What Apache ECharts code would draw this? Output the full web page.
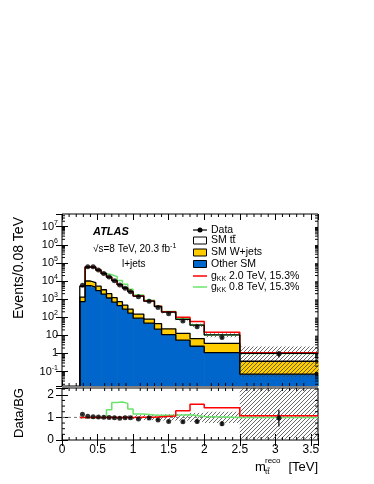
<!DOCTYPE html>
<html>
<head>
<meta charset="utf-8">
<script src="https://cdn.jsdelivr.net/npm/echarts@6/dist/echarts.min.js"></script>
<style>
html, body { margin: 0; padding: 0; background: #fff; }
#chart { width: 374px; height: 484px; }
</style>
</head>
<body>
<div id="chart"></div>
<script>
// bin edges of m_tt reco [TeV]
const binEdges = [0.25, 0.325, 0.4, 0.475, 0.55, 0.625, 0.7, 0.775, 0.85, 0.925, 1.0, 1.15, 1.3, 1.4, 1.6, 1.8, 2.0, 2.5, 3.6];
// events / 0.08 TeV, per background
const otherSM = [730, 5600, 4600, 2950, 1900, 1150, 680, 440, 280, 170, 89, 47, 22, 11, 5.4, 2.5, 1.1, 0.072];
const wJets = [570, 4400, 3600, 2250, 1400, 850, 520, 280, 190, 110, 61, 32, 22, 12, 7.6, 4.1, 2.5, 0.30];
const ttbar = [3900, 49000, 50800, 34800, 22700, 14500, 9300, 5580, 3630, 2320, 1320, 700, 346, 167, 64, 30, 6.9, 0.63];
const dataEvents = [5900, 62000, 60800, 40800, 26300, 16500, 10300, 6050, 4020, 2570, 1370, 760, 347, 156, 62, 30, 7.6, 0.97];
const dataRatioErr = [0.014, 0.004, 0.004, 0.005, 0.006, 0.008, 0.01, 0.013, 0.016, 0.02, 0.022, 0.03, 0.043, 0.04, 0.065, 0.09, 0.1, 0.37];
// signal + background
const gkk20 = [5200, 59000, 59000, 40000, 26000, 16500, 10500, 6300, 4100, 2600, 1485, 788, 402, 201, 100, 58, 15, 1.08];
const gkk08 = [5200, 59000, 59000, 40000, 26000, 22100, 17400, 10600, 6640, 3560, 1690, 858, 429, 209, 86, 38, 10.5, 1.0];
// background uncertainty (relative)
const bkgUncUp = [0.06, 0.05, 0.05, 0.05, 0.05, 0.05, 0.06, 0.06, 0.07, 0.08, 0.1, 0.12, 0.12, 0.14, 0.15, 0.2, 0.25, 1.4];
const bkgUncDown = [0.06, 0.05, 0.05, 0.05, 0.05, 0.05, 0.06, 0.06, 0.07, 0.08, 0.1, 0.12, 0.12, 0.14, 0.15, 0.2, 0.25, 0.95];
// tick labels
const xTickLabels = ['0', '0.5', '1', '1.5', '2', '2.5', '3', '3.5'];

const X_MAX = 3.6;
const Y_MIN = 0.016, Y_MAX = 5e7;
const R_MAX = 2.3;
const FONT = '"Liberation Sans", Arial, Helvetica, sans-serif';
const BLUE = '#0066cc', YELLOW = '#ffcc00', RED = '#ff0000', GREEN = '#6be36b';

const nBins = binEdges.length - 1;
const centers = binEdges.slice(0, -1).map((lo, i) => (lo + binEdges[i + 1]) / 2);
const wTop = otherSM.map((o, i) => o + wJets[i]);
const total = otherSM.map((o, i) => o + wJets[i] + ttbar[i]);

function stepLine(values, lead) {
  const pts = lead ? [[binEdges[0], Y_MIN]] : [];
  values.forEach((v, i) => pts.push([binEdges[i], v]));
  pts.push([binEdges[nBins], values[nBins - 1]]);
  return pts;
}

function hatchPattern() {
  const c = document.createElement('canvas');
  c.width = 4; c.height = 4;
  const ctx = c.getContext('2d');
  ctx.strokeStyle = '#444';
  ctx.lineWidth = 0.8;
  ctx.beginPath();
  ctx.moveTo(0, 4); ctx.lineTo(4, 0);
  ctx.moveTo(-1, 1); ctx.lineTo(1, -1);
  ctx.moveTo(3, 5); ctx.lineTo(5, 3);
  ctx.stroke();
  return c;
}
const hatch = { image: hatchPattern(), repeat: 'repeat' };

function rectBetween(api, lo, hi, v1, v2, style) {
  const a = api.coord([lo, v2]);
  const b = api.coord([hi, v1]);
  return { type: 'rect', shape: { x: a[0], y: a[1], width: b[0] - a[0] + 0.6, height: b[1] - a[1] }, style: style };
}

// one filled histogram layer, [lo, hi, value]
function fillLayer(color) {
  return function (params, api) {
    return rectBetween(api, api.value(0), api.value(1), Y_MIN, api.value(2), { fill: color });
  };
}

function renderBand(params, api) {
  return rectBetween(api, api.value(0), api.value(1), api.value(2), api.value(3), { fill: hatch });
}

function renderErr(params, api) {
  const a = api.coord([api.value(0), api.value(1)]);
  const b = api.coord([api.value(0), api.value(2)]);
  return { type: 'line', shape: { x1: a[0], y1: a[1], x2: b[0], y2: b[1] }, style: { stroke: '#000', lineWidth: 1.2 } };
}

const xMinor = [];
for (let i = 1; i < 36; i++) if (i % 5 !== 0) xMinor.push(i / 10);
const yMinorLog = [];
for (let n = -2; n <= 7; n++) for (let k = 2; k <= 9; k++) {
  const v = k * Math.pow(10, n);
  if (v > Y_MIN && v < Y_MAX) yMinorLog.push(v);
}
const yMinorRatio = [0.25, 0.5, 0.75, 1.25, 1.5, 1.75, 2.25];

function minorTicks(yMinor, yLo, yHi) {
  return function (params, api) {
    const lines = [];
    const add = (p, dx, dy) => lines.push({ type: 'line', shape: { x1: p[0], y1: p[1], x2: p[0] + dx, y2: p[1] + dy }, style: { stroke: '#000', lineWidth: 1 } });
    xMinor.forEach(x => { add(api.coord([x, yLo]), 0, -3); add(api.coord([x, yHi]), 0, 3); });
    yMinor.forEach(y => { add(api.coord([0, y]), 3, 0); add(api.coord([X_MAX, y]), -3, 0); });
    return { type: 'group', children: lines };
  };
}

const chart = echarts.init(document.getElementById('chart'));

const tickStyle = { show: true, inside: true, length: 6, lineStyle: { color: '#000', width: 1 } };
function xAxisFor(grid, pos, labels) {
  return {
    type: 'value', gridIndex: grid, position: pos, min: 0, max: X_MAX, interval: 0.5,
    axisLine: { show: false }, splitLine: { show: false }, axisTick: tickStyle,
    axisLabel: labels ? {
      show: true, color: '#000', fontSize: 12, fontFamily: FONT, margin: 4,
      formatter: v => { const i = Math.round(v / 0.5); return Math.abs(v - i * 0.5) < 1e-6 ? xTickLabels[i] || '' : ''; }
    } : { show: false }
  };
}

function histRows(values) {
  return binEdges.slice(0, -1).map((lo, i) => [lo, binEdges[i + 1], values[i]]);
}

const option = {
  animation: false,
  backgroundColor: '#fff',
  grid: [
    { left: 62, top: 214, width: 256, height: 172, show: true, borderColor: '#000', borderWidth: 1 },
    { left: 62, top: 388, width: 256, height: 52, show: true, borderColor: '#000', borderWidth: 1 }
  ],
  xAxis: [
    xAxisFor(0, 'bottom', false),
    xAxisFor(0, 'top', false),
    xAxisFor(1, 'bottom', true),
    xAxisFor(1, 'top', false)
  ],
  yAxis: [
    {
      type: 'log', gridIndex: 0, position: 'left', min: Y_MIN, max: Y_MAX, splitNumber: 10,
      axisLine: { show: false }, splitLine: { show: false }, axisTick: tickStyle,
      axisLabel: {
        color: '#000', fontSize: 11, fontFamily: FONT, margin: 4,
        showMinLabel: false, showMaxLabel: false,
        formatter: v => {
          const n = Math.round(Math.log10(v));
          if (Math.abs(Math.log10(v) - n) > 1e-3) return '';
          if (n === 0) return '1';
          if (n === 1) return '10';
          return '10{sup|' + n + '}';
        },
        rich: { sup: { fontSize: 7, fontFamily: FONT, color: '#000', padding: [0, 0, 8, 0] } }
      }
    },
    {
      type: 'log', gridIndex: 0, position: 'right', min: Y_MIN, max: Y_MAX, splitNumber: 10,
      axisLine: { show: false }, splitLine: { show: false }, axisTick: tickStyle, axisLabel: { show: false }
    },
    {
      type: 'value', gridIndex: 1, position: 'left', min: 0, max: R_MAX, interval: 1,
      axisLine: { show: false }, splitLine: { show: false }, axisTick: tickStyle,
      axisLabel: {
        color: '#000', fontSize: 12, fontFamily: FONT, margin: 8,
        formatter: v => Number.isInteger(v) ? String(v) : ''
      }
    },
    {
      type: 'value', gridIndex: 1, position: 'right', min: 0, max: R_MAX, interval: 1,
      axisLine: { show: false }, splitLine: { show: false }, axisTick: tickStyle, axisLabel: { show: false }
    }
  ],
  series: [
    // upper panel: stacked fills (total, W+jets + other, other)
    { type: 'custom', xAxisIndex: 0, yAxisIndex: 0, z: 1, renderItem: fillLayer('#ffffff'), encode: { x: [0, 1], y: 2 }, data: histRows(total) },
    { type: 'custom', xAxisIndex: 0, yAxisIndex: 0, z: 1, renderItem: fillLayer(YELLOW), encode: { x: [0, 1], y: 2 }, data: histRows(wTop) },
    { type: 'custom', xAxisIndex: 0, yAxisIndex: 0, z: 1, renderItem: fillLayer(BLUE), encode: { x: [0, 1], y: 2 }, data: histRows(otherSM) },
    {
      type: 'custom', xAxisIndex: 0, yAxisIndex: 0, z: 2,
      renderItem: renderBand,
      encode: { x: [0, 1], y: [2, 3] },
      data: binEdges.slice(0, -1).map((lo, i) => [lo, binEdges[i + 1], total[i] * (1 - bkgUncDown[i]), total[i] * (1 + bkgUncUp[i])])
    },
    { type: 'line', xAxisIndex: 0, yAxisIndex: 0, z: 3, step: 'end', symbol: 'none', lineStyle: { color: GREEN, width: 1.5 }, data: stepLine(gkk08, false) },
    { type: 'line', xAxisIndex: 0, yAxisIndex: 0, z: 3, step: 'end', symbol: 'none', lineStyle: { color: RED, width: 1.5 }, data: stepLine(gkk20, false) },
    { type: 'line', xAxisIndex: 0, yAxisIndex: 0, z: 4, step: 'end', symbol: 'none', lineStyle: { color: '#000', width: 1.3 }, data: stepLine(otherSM, true) },
    { type: 'line', xAxisIndex: 0, yAxisIndex: 0, z: 4, step: 'end', symbol: 'none', lineStyle: { color: '#000', width: 1.3 }, data: stepLine(wTop, true) },
    { type: 'line', xAxisIndex: 0, yAxisIndex: 0, z: 4, step: 'end', symbol: 'none', lineStyle: { color: '#000', width: 1.3 }, data: stepLine(total, true) },
    {
      type: 'custom', xAxisIndex: 0, yAxisIndex: 0, z: 5, renderItem: renderErr,
      encode: { x: 0, y: [1, 2] },
      data: centers.map((c, i) => [c, dataEvents[i] - dataRatioErr[i] * total[i], dataEvents[i] + dataRatioErr[i] * total[i]])
    },
    { type: 'scatter', xAxisIndex: 0, yAxisIndex: 0, z: 6, symbol: 'circle', symbolSize: 5, itemStyle: { color: '#000' }, data: centers.map((c, i) => [c, dataEvents[i]]) },
    { type: 'custom', xAxisIndex: 0, yAxisIndex: 0, z: 7, renderItem: minorTicks(yMinorLog, Y_MIN, Y_MAX), data: [[1, 1]] },
    // ratio panel
    {
      type: 'custom', xAxisIndex: 2, yAxisIndex: 2, z: 2,
      renderItem: renderBand,
      encode: { x: [0, 1], y: [2, 3] },
      data: binEdges.slice(0, -1).map((lo, i) => [lo, binEdges[i + 1], Math.max(0, 1 - bkgUncDown[i]), Math.min(R_MAX, 1 + bkgUncUp[i])])
    },
    { type: 'line', xAxisIndex: 2, yAxisIndex: 2, z: 3, symbol: 'none', lineStyle: { color: '#777', width: 1, type: [3, 3] }, data: [[0, 1], [X_MAX, 1]] },
    { type: 'line', xAxisIndex: 2, yAxisIndex: 2, z: 3, step: 'end', symbol: 'none', lineStyle: { color: GREEN, width: 1.5 }, data: stepLine(gkk08.map((v, i) => v / total[i]), false) },
    { type: 'line', xAxisIndex: 2, yAxisIndex: 2, z: 3, step: 'end', symbol: 'none', lineStyle: { color: RED, width: 1.5 }, data: stepLine(gkk20.map((v, i) => v / total[i]), false) },
    {
      type: 'custom', xAxisIndex: 2, yAxisIndex: 2, z: 5, renderItem: renderErr,
      encode: { x: 0, y: [1, 2] },
      data: centers.map((c, i) => [c, dataEvents[i] / total[i] - dataRatioErr[i], dataEvents[i] / total[i] + dataRatioErr[i]])
    },
    { type: 'scatter', xAxisIndex: 2, yAxisIndex: 2, z: 6, symbol: 'circle', symbolSize: 5, itemStyle: { color: '#000' }, data: centers.map((c, i) => [c, dataEvents[i] / total[i]]) },
    { type: 'custom', xAxisIndex: 2, yAxisIndex: 2, z: 7, renderItem: minorTicks(yMinorRatio, 0, R_MAX), data: [[1, 1]] }
  ],
  graphic: [
    // axis titles
    { type: 'text', x: 19, y: 268, rotation: Math.PI / 2, style: { text: 'Events/0.08 TeV', font: '14px ' + FONT, fill: '#000', align: 'center', verticalAlign: 'middle' } },
    { type: 'text', x: 19, y: 413, rotation: Math.PI / 2, style: { text: 'Data/BG', font: '13px ' + FONT, fill: '#000', align: 'center', verticalAlign: 'middle' } },
    { type: 'text', x: 255, y: 467, style: { text: 'm', font: '13px ' + FONT, fill: '#000', align: 'left', verticalAlign: 'middle' } },
    { type: 'text', x: 265, y: 461, style: { text: 'reco', font: '8px ' + FONT, fill: '#000', align: 'left', verticalAlign: 'middle' } },
    { type: 'text', x: 265, y: 472, style: { text: 'tt', font: '8px ' + FONT, fill: '#000', align: 'left', verticalAlign: 'middle' } },
    { type: 'line', shape: { x1: 267.4, y1: 468, x2: 270, y2: 468 }, style: { stroke: '#000', lineWidth: 0.7 } },
    { type: 'text', x: 318, y: 467, style: { text: '[TeV]', font: '13px ' + FONT, fill: '#000', align: 'right', verticalAlign: 'middle' } },
    // labels
    { type: 'text', x: 93, y: 232, style: { text: 'ATLAS', font: 'italic bold 11px ' + FONT, fill: '#000', align: 'left', verticalAlign: 'middle' } },
    {
      type: 'text', x: 93, y: 249, style: {
        text: '\u221As=8 TeV, 20.3 fb{sup|-1}', font: '10px ' + FONT, fill: '#000', align: 'left', verticalAlign: 'middle',
        rich: { sup: { fontSize: 7, fontFamily: FONT, padding: [0, 0, 6, 0] } }
      }
    },
    { type: 'text', x: 122, y: 264, style: { text: 'l+jets', font: '10px ' + FONT, fill: '#000', align: 'left', verticalAlign: 'middle' } },
    // legend
    { type: 'line', shape: { x1: 193, y1: 230, x2: 207, y2: 230 }, style: { stroke: '#000', lineWidth: 1.2 } },
    { type: 'circle', shape: { cx: 200, cy: 230, r: 2.5 }, style: { fill: '#000' } },
    { type: 'text', x: 211, y: 230, style: { text: 'Data', font: '10.5px ' + FONT, fill: '#000', align: 'left', verticalAlign: 'middle' } },
    { type: 'rect', shape: { x: 193.5, y: 237, width: 13, height: 7 }, style: { fill: '#fff', stroke: '#000', lineWidth: 1 } },
    { type: 'text', x: 211, y: 240.5, style: { text: 'SM tt', font: '10.5px ' + FONT, fill: '#000', align: 'left', verticalAlign: 'middle' } },
    { type: 'line', shape: { x1: 232.6, y1: 235.3, x2: 235.8, y2: 235.3 }, style: { stroke: '#000', lineWidth: 0.8 } },
    { type: 'rect', shape: { x: 193.5, y: 249, width: 13, height: 7 }, style: { fill: YELLOW, stroke: '#000', lineWidth: 1 } },
    { type: 'text', x: 211, y: 252.5, style: { text: 'SM W+jets', font: '10.5px ' + FONT, fill: '#000', align: 'left', verticalAlign: 'middle' } },
    { type: 'rect', shape: { x: 193.5, y: 260.5, width: 13, height: 7 }, style: { fill: BLUE, stroke: '#000', lineWidth: 1 } },
    { type: 'text', x: 211, y: 264, style: { text: 'Other SM', font: '10.5px ' + FONT, fill: '#000', align: 'left', verticalAlign: 'middle' } },
    { type: 'line', shape: { x1: 193, y1: 276, x2: 207, y2: 276 }, style: { stroke: RED, lineWidth: 1.5 } },
    {
      type: 'text', x: 211, y: 276, style: {
        text: 'g{sub|KK} 2.0 TeV, 15.3%', font: '10.5px ' + FONT, fill: '#000', align: 'left', verticalAlign: 'middle',
        rich: { sub: { fontSize: 7, fontFamily: FONT, padding: [7, 0, 0, 0] } }
      }
    },
    { type: 'line', shape: { x1: 193, y1: 287, x2: 207, y2: 287 }, style: { stroke: GREEN, lineWidth: 1.5 } },
    {
      type: 'text', x: 211, y: 287, style: {
        text: 'g{sub|KK} 0.8 TeV, 15.3%', font: '10.5px ' + FONT, fill: '#000', align: 'left', verticalAlign: 'middle',
        rich: { sub: { fontSize: 7, fontFamily: FONT, padding: [7, 0, 0, 0] } }
      }
    }
  ]
};

chart.setOption(option);
</script>
</body>
</html>
